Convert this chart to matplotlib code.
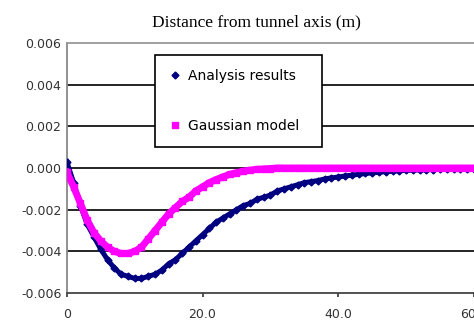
import matplotlib
matplotlib.use("Agg")
import matplotlib.pyplot as plt

plt.rcParams['axes.unicode_minus'] = False

# distance from tunnel axis (m)
distance = list(range(0, 61))

# settlement from the analysis
analysis = [0.0003, -0.0007, -0.0018, -0.0027, -0.0033, -0.0039, -0.0044, -0.0048,
            -0.0051, -0.0052, -0.0053, -0.0053, -0.0052, -0.0051, -0.0049, -0.0046,
            -0.0044, -0.0041, -0.0038, -0.0035, -0.0032, -0.0029, -0.0026, -0.0024,
            -0.0022, -0.0020, -0.0018, -0.0017, -0.0015, -0.0014, -0.0013, -0.0011,
            -0.0010, -0.0009, -0.0008, -0.0007, -0.00065, -0.0006, -0.00052, -0.00047,
            -0.00043, -0.00038, -0.00034, -0.0003, -0.00026, -0.00023, -0.0002, -0.00017,
            -0.00015, -0.00013, -0.00011, -0.0001, -0.00009, -0.00008, -0.00007, -0.00006,
            -0.00005, -0.00005, -0.00004, -0.00004, -0.00003]

# gaussian fit
gaussian = [-0.0002, -0.0009, -0.0017, -0.0025, -0.0031, -0.0035, -0.0038, -0.0040,
            -0.0041, -0.0041, -0.0040, -0.0038, -0.0034, -0.0030, -0.0026, -0.0022,
            -0.0019, -0.0016, -0.0014, -0.0011, -0.0009, -0.0007, -0.00055, -0.00042,
            -0.0003, -0.00022, -0.00015, -0.0001, -0.00006, -0.00004, -0.00002] + [0.0] * 30

yticks = [-0.006, -0.004, -0.002, 0.0, 0.002, 0.004, 0.006]
xticks = [0, 20, 40, 60]
xlabels = ["0", "20.0", "40.0", "60.0"]

fig = plt.figure(figsize=(4.74, 3.22), dpi=100)
ax = fig.add_axes([0.141, 0.09, 0.859, 0.776])

ax.plot(distance, analysis, color='#000080', lw=3.6, marker='D', ms=3.5,
        label='Analysis results', zorder=3)
ax.plot(distance, gaussian, color='#ff00ff', lw=5.0, marker='s', ms=5,
        label='Gaussian model', zorder=4)

ax.set_xlim(0, 60)
ax.set_ylim(-0.006, 0.006)
ax.set_yticks(yticks)
ax.set_yticklabels(["%.3f" % v for v in yticks])
ax.set_xticks(xticks)
ax.set_xticklabels(xlabels)

# horizontal grid only
for v in yticks[1:-1]:
    ax.axhline(v, color='black', lw=1.2, zorder=1)

ax.tick_params(axis='y', length=0, pad=4, labelsize=9, labelcolor='#333333')
ax.tick_params(axis='x', length=3, width=1.2, pad=8, labelsize=9,
               labelcolor='#333333', color='#333333')
ax.spines['left'].set_color('#888888')
ax.spines['left'].set_linewidth(1.3)
ax.spines['top'].set_color('#999999')
ax.spines['top'].set_linewidth(1.3)
ax.spines['bottom'].set_color('#444444')
ax.spines['bottom'].set_linewidth(1.3)
ax.spines['right'].set_visible(False)

leg = ax.legend(loc='upper left', bbox_to_anchor=(0.216, 0.584, 0.411, 0.368),
                mode='expand', fancybox=False, framealpha=1, edgecolor='black',
                fontsize=10, handlelength=0.9, handletextpad=0.5,
                borderpad=1.0, labelspacing=2.6, borderaxespad=0)
leg.get_frame().set_linewidth(1.2)
for h in leg.legend_handles:
    h.set_linestyle('None')
leg.set_zorder(5)

fig.text(0.541, 1 - 22 / 322, "Distance from tunnel axis (m)", ha='center',
         va='center', fontsize=12.5, family='Liberation Serif')

fig.savefig("out.png", dpi=100)
